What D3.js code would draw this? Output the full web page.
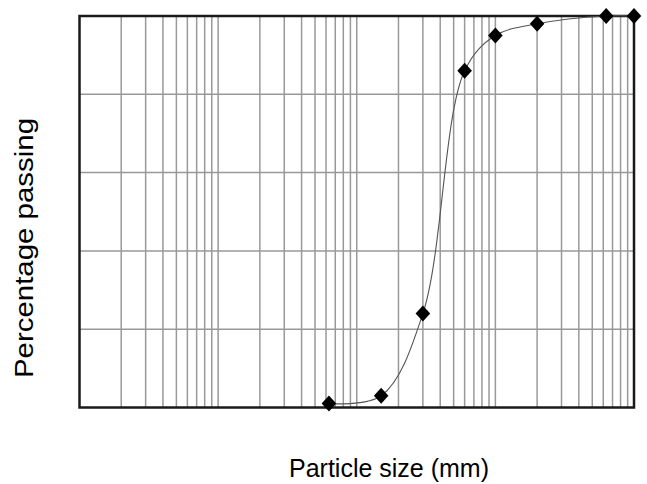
<!DOCTYPE html>
<html>
<head>
<meta charset="utf-8">
<script src="https://cdn.jsdelivr.net/npm/d3@7"></script>
<style>
body { margin: 0; background: #fff; }
text { font-family: "Liberation Sans", Arial, sans-serif; }
</style>
</head>
<body>
<script>

// sieve sizes (mm) and percentage passing
var sizes = [0.063, 0.15, 0.3, 0.6, 1.0, 2.0, 6.3, 10];
var passing = [1, 3, 24, 86, 95, 98, 100, 100];

var yTicks = [0, 20, 40, 60, 80, 100];
var xDomain = [0.001, 10];

var width = 647, height = 484;
var plotL = 79.5, plotR = 634, plotT = 16, plotB = 407.5;

var svg = d3.select("body").append("svg")
    .attr("width", width)
    .attr("height", height);

var x = d3.scaleLog().domain(xDomain).range([plotL, plotR]);
var y = d3.scaleLinear().domain([0, 100]).range([plotB, plotT]);

// minor log gridlines 2..9 in every decade
var xGrid = [];
for (var k = -3; k < 1; k++) {
    for (var m = 2; m <= 10; m++) {
        var v = m * Math.pow(10, k);
        if (v < xDomain[1]) xGrid.push(v);
    }
}

svg.append("g")
    .selectAll("line")
    .data(xGrid)
    .enter().append("line")
    .attr("x1", d => x(d)).attr("x2", d => x(d))
    .attr("y1", plotT).attr("y2", plotB)
    .attr("stroke", "#999")
    .attr("stroke-width", 1.5);

svg.append("g")
    .selectAll("line")
    .data(yTicks.slice(1, -1))
    .enter().append("line")
    .attr("x1", plotL).attr("x2", plotR)
    .attr("y1", d => y(d)).attr("y2", d => y(d))
    .attr("stroke", "#999")
    .attr("stroke-width", 1.5);

// frame
svg.append("rect")
    .attr("x", plotL).attr("y", plotT)
    .attr("width", plotR - plotL).attr("height", plotB - plotT)
    .attr("fill", "none")
    .attr("stroke", "#1a1a1a")
    .attr("stroke-width", 2.5);

var pts = sizes.map((s, i) => [s, passing[i]]);

var line = d3.line()
    .x(d => x(d[0]))
    .y(d => y(d[1]))
    .curve(d3.curveCatmullRom.alpha(0.5));

svg.append("path")
    .datum(pts)
    .attr("d", line)
    .attr("fill", "none")
    .attr("stroke", "#555")
    .attr("stroke-width", 1.1);

// diamond markers
svg.append("g")
    .selectAll("path")
    .data(pts)
    .enter().append("path")
    .attr("transform", d => "translate(" + x(d[0]) + "," + y(d[1]) + ")")
    .attr("d", "M0,-8L7.3,0L0,8L-7.3,0Z")
    .attr("fill", "#000");

svg.append("text")
    .attr("x", 389)
    .attr("y", 477)
    .attr("text-anchor", "middle")
    .attr("font-size", 25)
    .text("Particle size (mm)");

svg.append("text")
    .attr("transform", "translate(33,248) rotate(-90)")
    .attr("text-anchor", "middle")
    .attr("font-size", 25)
    .attr("textLength", 260)
    .attr("lengthAdjust", "spacingAndGlyphs")
    .text("Percentage passing");

</script>
</body>
</html>
